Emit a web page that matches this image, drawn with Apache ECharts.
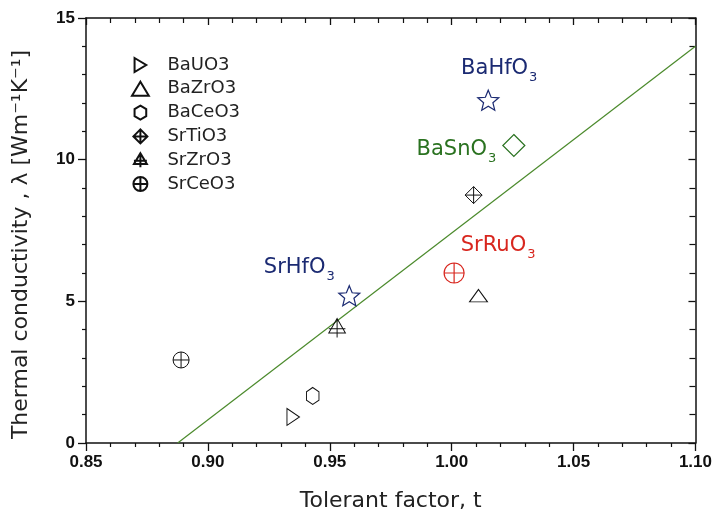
<!DOCTYPE html>
<html>
<head>
<meta charset="utf-8">
<script src="https://cdn.jsdelivr.net/npm/echarts@6/dist/echarts.min.js"></script>
<style>
html,body{margin:0;padding:0;background:#fff;}
#chart{width:715px;height:518px;}
</style>
</head>
<body>
<div id="chart"></div>
<script>
// 数据：各材料的 (t, λ)
var baUO3 = [[0.935, 0.92]];
var baZrO3 = [[1.011, 5.2]];
var baCeO3 = [[0.943, 1.66]];
var srTiO3 = [[1.009, 8.75]];
var srZrO3 = [[0.953, 4.06]];
var srCeO3 = [[0.889, 2.93]];
var baHfO3 = [[1.015, 12.1]];
var srHfO3 = [[0.958, 5.2]];
var baSnO3 = [[1.0255, 10.5]];
var srRuO3 = [[1.001, 6.0]];
var fitLine = [[0.8876, 0], [1.10, 14.0]];
var xTicks = [0.85, 0.90, 0.95, 1.00, 1.05, 1.10];
var yTicks = [0, 5, 10, 15];

// 符号
var symRight = 'path://M0,0 L10,6 L0,12 Z';
var symTri = 'path://M6,0 L12,10 L0,10 Z';
var symHex = 'path://M5,0 L10,3 L10,9 L5,12 L0,9 L0,3 Z';
var symDiaCross = 'path://M6,0 L12,6 L6,12 L0,6 Z M6,0 L6,12 M0,6 L12,6';
var symTriCross = 'path://M6,0 L12,10 L0,10 Z M6,0 L6,13 M0,7 L12,7';
var symCircCross = 'path://M12,6 A6,6 0 1 1 0,6 A6,6 0 1 1 12,6 Z M6,0 L6,12 M0,6 L12,6';
var symStar = 'path://M10,0 L12.6,6.4 L19.5,6.9 L14.2,11.4 L15.9,18.1 L10,14.5 L4.1,18.1 L5.8,11.4 L0.5,6.9 L7.4,6.4 Z';
var symDia = 'path://M6,0 L12,6 L6,12 L0,6 Z';

var blue = '#1b2a72', green = '#2a7220', red = '#d8261e';
var font = 'DejaVu Sans, sans-serif';
var tickFont = 'Liberation Sans, Arial, sans-serif';

function blackSeries(name, data, symbol, size){
	return {
		name: name, type: 'scatter', data: data,
		symbol: symbol, symbolSize: size, symbolKeepAspect: true,
		itemStyle: {color: 'rgba(255,255,255,0)', borderColor: '#111', borderWidth: 1, opacity: 1},
		emphasis: {disabled: true}
	};
}
function subLabel(text, color, pos, offset){
	return {
		show: true, position: pos, offset: offset, distance: 4,
		formatter: '{m|' + text + '}{s|3}',
		rich: {
			m: {fontSize: 21, color: color, fontFamily: font},
			s: {fontSize: 13, color: color, fontFamily: font, padding: [19, 0, 0, 1]}
		}
	};
}
function namedSeries(name, data, symbol, size, color, label){
	return {
		name: name, type: 'scatter', data: data,
		symbol: symbol, symbolSize: size, symbolKeepAspect: true,
		itemStyle: {color: 'rgba(255,255,255,0)', borderColor: color, borderWidth: 1.2, opacity: 1},
		label: label,
		emphasis: {disabled: true}
	};
}

var chart = echarts.init(document.getElementById('chart'));
var axisLine = {show: true, onZero: false, lineStyle: {color: '#111', width: 1.5}};
var option = {
	animation: false,
	grid: {left: 86, right: 18, top: 18, bottom: 75},
	legend: {
		orient: 'vertical', left: 126, top: 51,
		itemWidth: 28, itemHeight: 14, itemGap: 5.8,
		data: ['BaUO3', 'BaZrO3', 'BaCeO3', 'SrTiO3', 'SrZrO3', 'SrCeO3'],
		textStyle: {fontSize: 18, lineHeight: 18, color: '#222', fontFamily: font, padding: [0, 0, 0, 8]}
	},
	xAxis: [{
		type: 'value', min: xTicks[0], max: xTicks[xTicks.length - 1], interval: 0.05,
		name: 'Tolerant factor, t', nameLocation: 'middle', nameGap: 47,
		nameTextStyle: {fontSize: 22, color: '#222', fontFamily: font},
		axisLine: axisLine,
		axisTick: {show: true, inside: false, length: 8, lineStyle: {color: '#111', width: 1.3}},
		minorTick: {show: true, splitNumber: 5, length: 4, lineStyle: {color: '#111', width: 1.2}},
		axisLabel: {fontSize: 17, fontWeight: 'bold', color: '#111', margin: 11, fontFamily: tickFont,
			formatter: function(v){ return v.toFixed(2); }},
		splitLine: {show: false}
	}, {
		type: 'value', position: 'top', min: xTicks[0], max: xTicks[xTicks.length - 1], interval: 0.05,
		axisLine: axisLine,
		axisTick: {show: true, inside: true, length: 7, lineStyle: {color: '#111', width: 1.3}},
		minorTick: {show: true, splitNumber: 5, length: 5, lineStyle: {color: '#111', width: 1.2}},
		axisLabel: {show: false}, splitLine: {show: false}
	}],
	yAxis: [{
		type: 'value', min: yTicks[0], max: yTicks[yTicks.length - 1], interval: 5,
		name: 'Thermal conductivity , \u03bb [Wm\u207b\u00b9K\u207b\u00b9]', nameLocation: 'middle', nameGap: 54,
		nameTextStyle: {fontSize: 22, color: '#222', fontFamily: font, padding: [0, 28, 0, 0]},
		axisLine: axisLine,
		axisTick: {show: true, inside: false, length: 8, lineStyle: {color: '#111', width: 1.3}},
		minorTick: {show: true, splitNumber: 5, length: 4, lineStyle: {color: '#111', width: 1.2}},
		axisLabel: {fontSize: 17, fontWeight: 'bold', color: '#111', margin: 11, fontFamily: tickFont},
		splitLine: {show: false}
	}, {
		type: 'value', position: 'right', min: yTicks[0], max: yTicks[yTicks.length - 1], interval: 5,
		axisLine: axisLine,
		axisTick: {show: true, inside: true, length: 7, lineStyle: {color: '#111', width: 1.3}},
		minorTick: {show: true, splitNumber: 5, length: 6, lineStyle: {color: '#111', width: 1.2}},
		axisLabel: {show: false}, splitLine: {show: false}
	}],
	series: [
		{
			name: 'fit', type: 'line', data: fitLine, showSymbol: false, symbol: 'none',
			lineStyle: {color: '#4b8a2c', width: 1.2}, z: 1, silent: true
		},
		blackSeries('BaUO3', baUO3, symRight, [15, 17]),
		blackSeries('BaZrO3', baZrO3, symTri, [18, 15]),
		blackSeries('BaCeO3', baCeO3, symHex, [15, 17]),
		blackSeries('SrTiO3', srTiO3, symDiaCross, 17),
		blackSeries('SrZrO3', srZrO3, symTriCross, [18, 19]),
		blackSeries('SrCeO3', srCeO3, symCircCross, 16),
		namedSeries('BaHfO3', baHfO3, symStar, 21, blue, subLabel('BaHfO', blue, 'top', [11, -1])),
		namedSeries('SrHfO3', srHfO3, symStar, 21, blue, subLabel('SrHfO', blue, 'top', [-50, 2])),
		namedSeries('BaSnO3', baSnO3, symDia, 22, green, subLabel('BaSnO', green, 'left', [-2, 4])),
		namedSeries('SrRuO3', srRuO3, symCircCross, 20, red, subLabel('SrRuO', red, 'top', [44, 3]))
	]
};
chart.setOption(option);
</script>
</body>
</html>
